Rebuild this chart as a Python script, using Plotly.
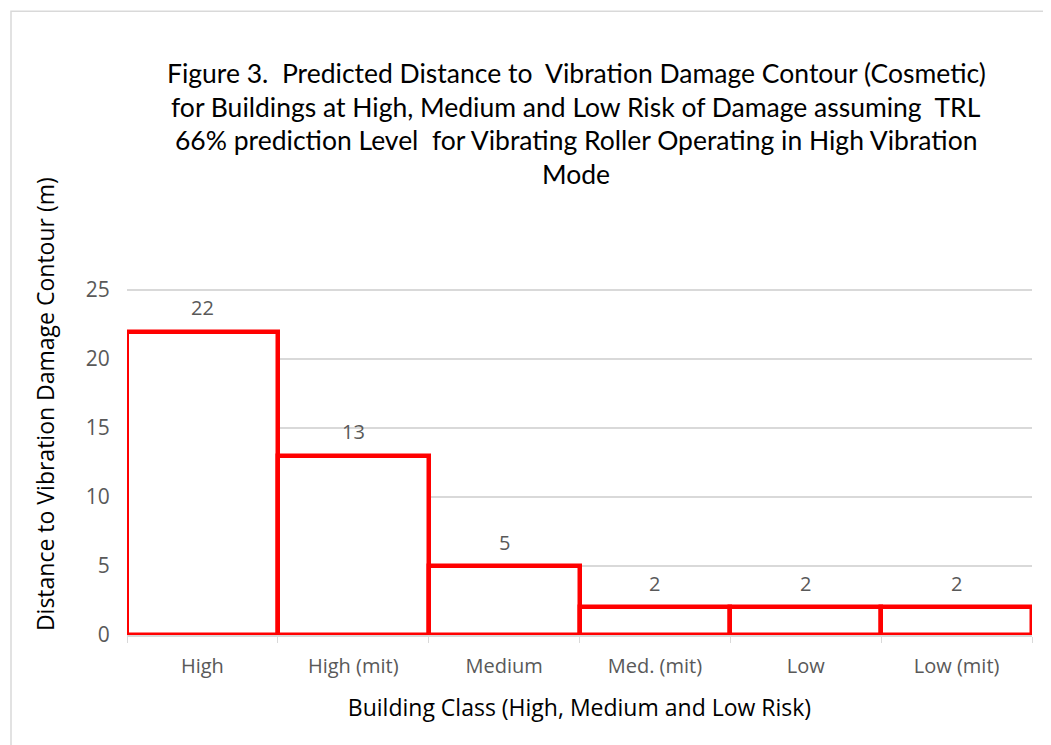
import plotly.graph_objects as go

categories = ["High", "High (mit)", "Medium", "Med. (mit)", "Low", "Low (mit)"]
distances = [22, 13, 5, 2, 2, 2]
title_lines = [
    "Figure 3.  Predicted Distance to  Vibration Damage Contour (Cosmetic)",
    "for Buildings at High, Medium and Low Risk of Damage assuming  TRL",
    "66% prediction Level  for Vibrating Roller Operating in High Vibration",
    "Mode",
]
y_title = "Distance to Vibration Damage Contour (m)"
x_title = "Building Class (High, Medium and Low Risk)"
y_ticks = [0, 5, 10, 15, 20, 25]
y_max = 25.3

OFF = 8  # page body margin
W, H = 1051 - OFF, 745 - OFF
unit = 345 / 25.0
L, R, B = 127 - OFF, 1032 - OFF, 635 - OFF
T = B - unit * y_max
pw, ph = R - L, B - T

def px_x(x):
    return (x - OFF - L) / pw

def px_y(y):
    return (B - (y - OFF)) / ph

fig = go.Figure()
fig.add_trace(go.Bar(
    x=categories, y=distances, width=1.0,
    marker=dict(color="white", line=dict(color="#ff0000", width=4.5)),
    cliponaxis=False, hoverinfo="x+y",
))

annotations = []
for c, v in zip(categories, distances):
    annotations.append(dict(
        text=str(v), x=c, y=v, xref="x", yref="y", yshift=24,
        xanchor="center", yanchor="middle", showarrow=False,
        font=dict(family="Open Sans", size=20, color="#595959"),
    ))

title_y = [73, 107, 140, 174]
for line, yy in zip(title_lines, title_y):
    annotations.append(dict(
        text=line, xref="paper", yref="paper", x=px_x(576), y=px_y(yy),
        xanchor="center", yanchor="middle", showarrow=False,
        font=dict(family="Lato", size=26.5, color="#000000"),
    ))

annotations.append(dict(
    text=y_title, xref="paper", yref="paper", x=px_x(45), y=px_y(404),
    xanchor="center", yanchor="middle", showarrow=False, textangle=-90,
    font=dict(family="Open Sans", size=23, color="#000000"),
))

fig.update_layout(
    width=W, height=H,
    margin=dict(l=L, r=W - R, t=T, b=H - B),
    paper_bgcolor="white", plot_bgcolor="white",
    showlegend=False,
    annotations=annotations,
    bargap=0,
    xaxis=dict(
        title=dict(text=x_title,
                   font=dict(family="Open Sans", size=23, color="#000000"), standoff=22),
        tickfont=dict(family="Open Sans", size=20, color="#595959"),
        showline=True, linecolor="#d9d9d9", linewidth=1.5,
        ticks="outside", tickson="boundaries", ticklen=6, tickcolor="#d9d9d9",
        ticklabelstandoff=12,
        showgrid=False, range=[-0.5, 5.5],
    ),
    yaxis=dict(
        tickfont=dict(family="Open Sans", size=21, color="#595959"),
        tickvals=y_ticks, range=[0, y_max],
        showgrid=True, gridcolor="#d9d9d9", gridwidth=1.5,
        zeroline=False, showline=False, ticks="outside", ticklen=12, tickcolor="rgba(0,0,0,0)",
    ),
    shapes=[dict(type="rect", xref="paper", yref="paper",
                 x0=px_x(11), x1=px_x(1060), y0=px_y(760), y1=px_y(11),
                 line=dict(color="#d9d9d9", width=1.5), fillcolor="rgba(0,0,0,0)",
                 layer="below")],
)

fig.write_html("out.html")
